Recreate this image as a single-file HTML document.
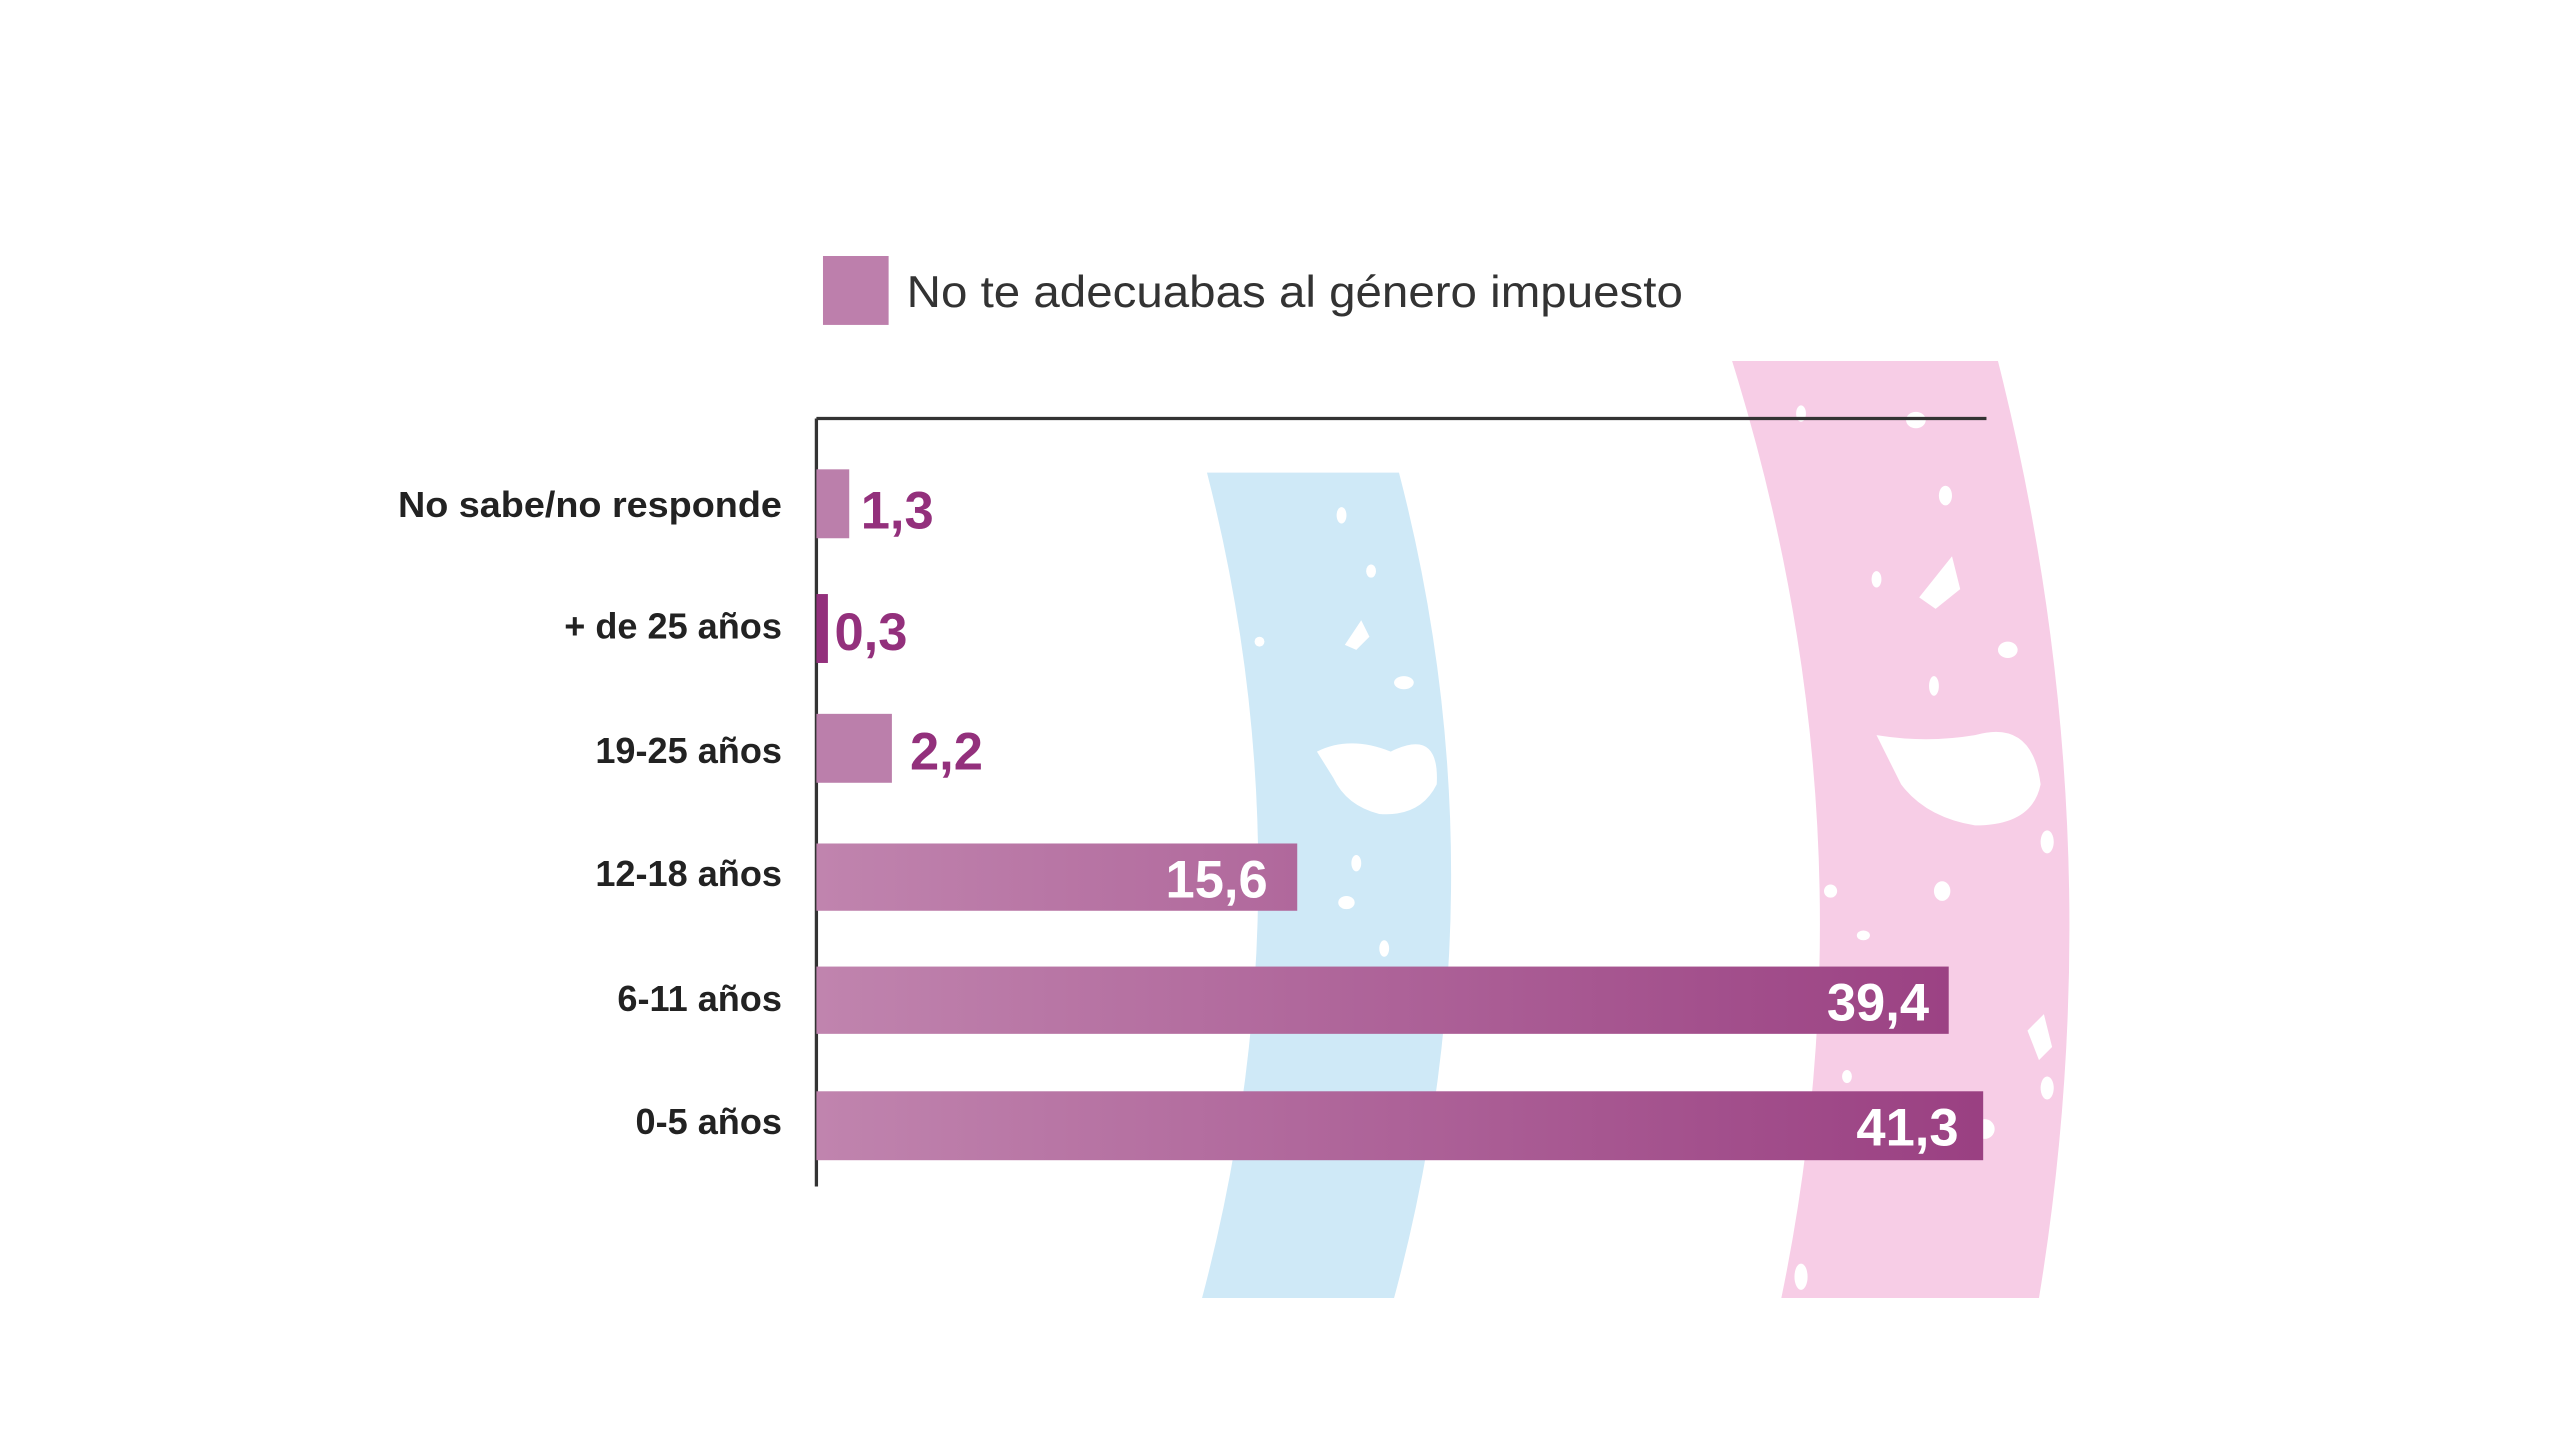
<!DOCTYPE html>
<html><head><meta charset="utf-8"><style>html,body{margin:0;padding:0;background:#fff}svg{display:block}</style></head>
<body>
<svg width="2560" height="1440" viewBox="0 0 1560 877.5" xmlns="http://www.w3.org/2000/svg">
<defs>
<linearGradient id="g" gradientUnits="userSpaceOnUse" x1="500" y1="0" x2="1210" y2="0">
<stop offset="0" stop-color="#c084ae"/><stop offset="1" stop-color="#9a4082"/>
</linearGradient>
</defs>
<rect width="1560" height="877.5" fill="#fff"/>
<g transform="translate(-2.5,-2)">
<path d="M738,290 L855,290 Q920,540 852,793 L735,793 Q802,540 738,290Z" fill="#cfe9f7"/>
<path d="M1058,222 L1220,222 Q1292,507 1245,793 L1088,793 Q1147,507 1058,222Z" fill="#f7cde6"/>
<g fill="#fff">
<ellipse cx="820" cy="316" rx="3" ry="5"/><ellipse cx="838" cy="350" rx="3" ry="4"/>
<path d="M822,395 l10,-15 l5,10 l-8,8z"/><ellipse cx="770" cy="393" rx="3" ry="3"/>
<path d="M805,460 q20,-10 45,0 q30,-15 28,20 q-10,20 -35,18 q-20,-5 -28,-22z"/>
<ellipse cx="829" cy="528" rx="3" ry="5"/><ellipse cx="823" cy="552" rx="5" ry="4"/>
<ellipse cx="858" cy="418" rx="6" ry="4"/><ellipse cx="846" cy="580" rx="3" ry="5"/>
<ellipse cx="1100" cy="254" rx="3" ry="5"/><ellipse cx="1170" cy="258" rx="6" ry="5"/>
<ellipse cx="1188" cy="304" rx="4" ry="6"/><path d="M1172,366 l20,-25 l5,20 l-15,12z"/>
<ellipse cx="1146" cy="355" rx="3" ry="5"/><ellipse cx="1226" cy="398" rx="6" ry="5"/>
<ellipse cx="1181" cy="420" rx="3" ry="6"/>
<path d="M1146,450 q30,5 60,0 q35,-10 40,30 q-5,25 -40,25 q-30,-5 -45,-25z"/>
<ellipse cx="1118" cy="545" rx="4" ry="4"/><ellipse cx="1186" cy="545" rx="5" ry="6"/>
<ellipse cx="1138" cy="572" rx="4" ry="3"/><ellipse cx="1250" cy="515" rx="4" ry="7"/>
<path d="M1238,630 l10,-10 l5,20 l-8,8z"/><ellipse cx="1250" cy="665" rx="4" ry="7"/>
<ellipse cx="1212" cy="690" rx="6" ry="6"/><ellipse cx="1128" cy="658" rx="3" ry="4"/>
<ellipse cx="1100" cy="780" rx="4" ry="8"/>
</g>
<rect x="504" y="158" width="40" height="42" fill="#bd7fac"/>
<text x="555" y="189" font-family="Liberation Sans, sans-serif" font-size="27" fill="#333" textLength="473" lengthAdjust="spacingAndGlyphs">No te adecuabas al género impuesto</text>
<line x1="500" y1="257" x2="1213" y2="257" stroke="#333" stroke-width="2"/>
<line x1="500" y1="257" x2="500" y2="725" stroke="#333" stroke-width="2"/>
<g font-family="Liberation Sans, sans-serif" font-weight="bold" font-size="22" fill="#222" text-anchor="end">
<text x="479" y="317" textLength="234" lengthAdjust="spacingAndGlyphs">No sabe/no responde</text>
<text x="479" y="391">+ de 25 años</text>
<text x="479" y="467">19-25 años</text>
<text x="479" y="542">12-18 años</text>
<text x="479" y="618">6-11 años</text>
<text x="479" y="693">0-5 años</text>
</g>
<rect x="500" y="288" width="20" height="42" fill="#bb7fab"/>
<rect x="500" y="364" width="7" height="42" fill="#93307c"/>
<rect x="500" y="437" width="46" height="42" fill="#bb7fab"/>
<rect x="500" y="516" width="293" height="41" fill="url(#g)"/>
<rect x="500" y="591" width="690" height="41" fill="url(#g)"/>
<rect x="500" y="667" width="711" height="42" fill="url(#g)"/>
<g font-family="Liberation Sans, sans-serif" font-weight="bold" font-size="32">
<text x="527" y="324" fill="#93307c">1,3</text>
<text x="511" y="398" fill="#93307c">0,3</text>
<text x="557" y="471" fill="#93307c">2,2</text>
<g fill="#fff" text-anchor="end">
<text x="775" y="549">15,6</text>
<text x="1178" y="624">39,4</text>
<text x="1196" y="700">41,3</text>
</g>
</g>
</g>
</svg>
</body></html>
